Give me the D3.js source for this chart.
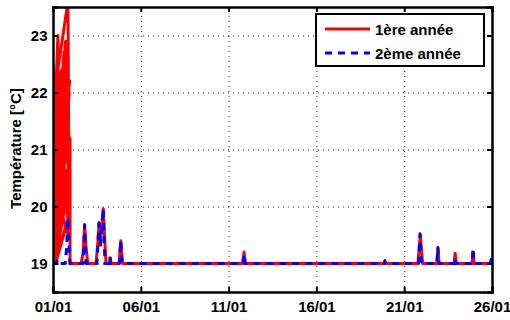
<!DOCTYPE html>
<html><head><meta charset="utf-8">
<script src="https://cdn.jsdelivr.net/npm/d3@7"></script>
<style>body{margin:0;background:#fff}svg{display:block}text{font-family:"Liberation Sans",Arial,sans-serif;font-weight:bold}</style>
</head><body><svg id="c" width="510" height="320"></svg>
<script>
// Data (x in days since 01/01, y in °C)
const xTickDays = [0, 5, 10, 15, 20, 25];
const xTickLabels = ["01/01", "06/01", "11/01", "16/01", "21/01", "26/01"];
const yTicks = [19, 20, 21, 22, 23];
const seriesNames = ["1ère année", "2ème année"];

const redDay = [0.00,0.12,0.28,0.34,0.02,0.50,0.04,0.85,0.92,0.00,0.78,0.03,0.95,0.00,0.68,0.02,0.90,0.00,0.96,0.04,0.94,0.08,0.97,0.15,0.60,0.20,0.75,0.10,0.88,
  0.00,0.45,0.06,0.72,0.00,0.58,0.18,0.93,0.05,0.40,0.00,0.82,0.12,0.66,0.00,0.97,0.25,0.86,0.02,0.50,0.10,0.96,0.00,0.74,0.30,0.92,0.05,0.62,0.00,0.97,
  0.97,1.60,1.72,1.80,1.88,1.98,2.45,2.55,2.62,2.70,2.86,2.95,3.02,3.20,3.25,3.30,3.76,3.86,3.95,10.80,10.88,10.96,20.78,20.86,20.92,20.98,21.05,21.86,21.92,21.98,22.84,22.90,22.96,23.86,23.92,23.98,25.00];
const redTemp = [22.5,21.7,23.0,20.3,21.3,22.4,21.9,23.6,19.8,20.8,22.8,20.2,22.2,19.6,21.9,19.3,21.4,19.1,20.9,19.0,20.4,19.0,19.9,19.0,20.6,19.4,21.2,19.6,22.6,
  21.0,22.2,20.0,22.9,20.5,21.6,19.2,22.0,20.9,21.3,19.8,21.8,19.5,20.9,21.5,20.7,19.3,22.4,20.1,20.0,22.1,19.4,20.4,20.3,21.9,20.6,19.6,22.7,19.9,21.2,
  19.0,19.0,19.2,19.68,19.3,19.0,19.0,19.35,19.72,19.35,19.96,19.4,19.0,19.0,19.1,19.0,19.0,19.4,19.0,19.0,19.2,19.0,19.0,19.3,19.5,19.25,19.0,19.0,19.27,19.0,19.0,19.18,19.0,19.0,19.2,19.0,19.0];

const blueDay = [0.00,0.20,0.25,0.30,0.70,0.78,0.84,0.90,0.95,1.00,1.72,1.80,1.88,2.50,2.62,2.70,2.86,2.96,3.20,3.25,3.30,3.78,3.86,3.94,10.82,10.88,10.94,18.85,18.90,18.95,20.82,20.90,20.98,21.86,21.92,21.98,22.86,22.90,22.94,23.86,23.92,23.98,24.90,24.95,25.00];
const blueTemp = [19.0,19.0,19.06,19.0,19.0,19.3,19.8,19.45,19.05,19.0,19.0,19.68,19.0,19.0,19.7,19.3,19.96,19.0,19.0,19.12,19.0,19.0,19.4,19.0,19.0,19.16,19.0,19.0,19.05,19.0,19.0,19.52,19.0,19.0,19.28,19.0,19.0,19.1,19.0,19.0,19.27,19.0,19.0,19.07,19.0];

const svg = d3.select("#c");
const m = {l:53, r:18, t:7, b:28};
const W = 510, H = 320;
const x = d3.scaleLinear().domain([0, 25]).range([m.l, W - m.r]);
const y = d3.scaleLinear().domain([18.5, 23.5]).range([H - m.b, m.t]);

svg.append("defs").append("clipPath").attr("id","clip").append("rect")
  .attr("x", m.l).attr("y", m.t).attr("width", W-m.l-m.r).attr("height", H-m.t-m.b);

// grid
const grid = svg.append("g");
grid.append("g").attr("transform",`translate(0,${H-m.b})`)
  .call(d3.axisBottom(x).tickValues(xTickDays.slice(1,-1)).tickSize(-(H-m.t-m.b)).tickFormat(""))
  .call(g=>g.select(".domain").remove());
grid.append("g").attr("transform",`translate(${m.l},0)`)
  .call(d3.axisLeft(y).tickValues(yTicks).tickSize(-(W-m.l-m.r)).tickFormat(""))
  .call(g=>g.select(".domain").remove());
grid.selectAll("line").attr("stroke","#222").attr("stroke-width",1).attr("stroke-dasharray","1,4");

// lines
const plot = svg.append("g").attr("clip-path","url(#clip)");
const line = d3.line().x(d=>x(d[0])).y(d=>y(d[1]));
plot.append("path").datum(redDay.map((d,i)=>[d, redTemp[i]]))
  .attr("d", line).attr("fill","none").attr("stroke","#ff0000").attr("stroke-width",3).attr("stroke-linejoin","round");
plot.append("path").datum(blueDay.map((d,i)=>[d, blueTemp[i]]))
  .attr("d", line).attr("fill","none").attr("stroke","#0000ff").attr("stroke-width",3).attr("stroke-dasharray","7,6").attr("stroke-linejoin","round");

// axes
const fs = "15px";
const bx = svg.append("g").attr("transform",`translate(0,${H-m.b})`)
  .call(d3.axisBottom(x).tickValues(xTickDays).tickSize(-5).tickFormat((d,i)=>xTickLabels[i]));
bx.selectAll("text").attr("y", 20).attr("dy", 0).style("font-size", fs).attr("fill","#000");
const tx = svg.append("g").attr("transform",`translate(0,${m.t})`)
  .call(d3.axisTop(x).tickValues(xTickDays).tickSize(-5).tickFormat(""));
const ly = svg.append("g").attr("transform",`translate(${m.l},0)`)
  .call(d3.axisLeft(y).tickValues(yTicks).tickSize(-5).tickPadding(5.5).tickFormat(d3.format("d")));
ly.selectAll("text").style("font-size", fs).attr("fill","#000");
const ry = svg.append("g").attr("transform",`translate(${W-m.r},0)`)
  .call(d3.axisRight(y).tickValues(yTicks).tickSize(-5).tickFormat(""));
svg.selectAll(".domain").attr("stroke","#000").attr("stroke-width",2.5);
[bx,tx,ly,ry].forEach(g=>g.selectAll(".tick line").attr("stroke","#000").attr("stroke-width",2));

svg.append("text").attr("transform",`translate(21,148.5) rotate(-90)`)
  .attr("text-anchor","middle").style("font-size", fs).text("Température [°C]");

// legend
const lg = svg.append("g");
lg.append("rect").attr("x",316).attr("y",14).attr("width",168).attr("height",52)
  .attr("fill","#fff").attr("stroke","#000").attr("stroke-width",2);
const styles = [{c:"#ff0000", dash:null, ly:29}, {c:"#0000ff", dash:"7,6", ly:53}];
seriesNames.forEach((n,i)=>{
  const s = styles[i];
  lg.append("line").attr("x1",325).attr("x2",370).attr("y1",s.ly).attr("y2",s.ly)
    .attr("stroke",s.c).attr("stroke-width",3).attr("stroke-dasharray",s.dash);
  lg.append("text").attr("x",375).attr("y",s.ly+6).style("font-size",fs).text(n);
});
</script></body></html>
